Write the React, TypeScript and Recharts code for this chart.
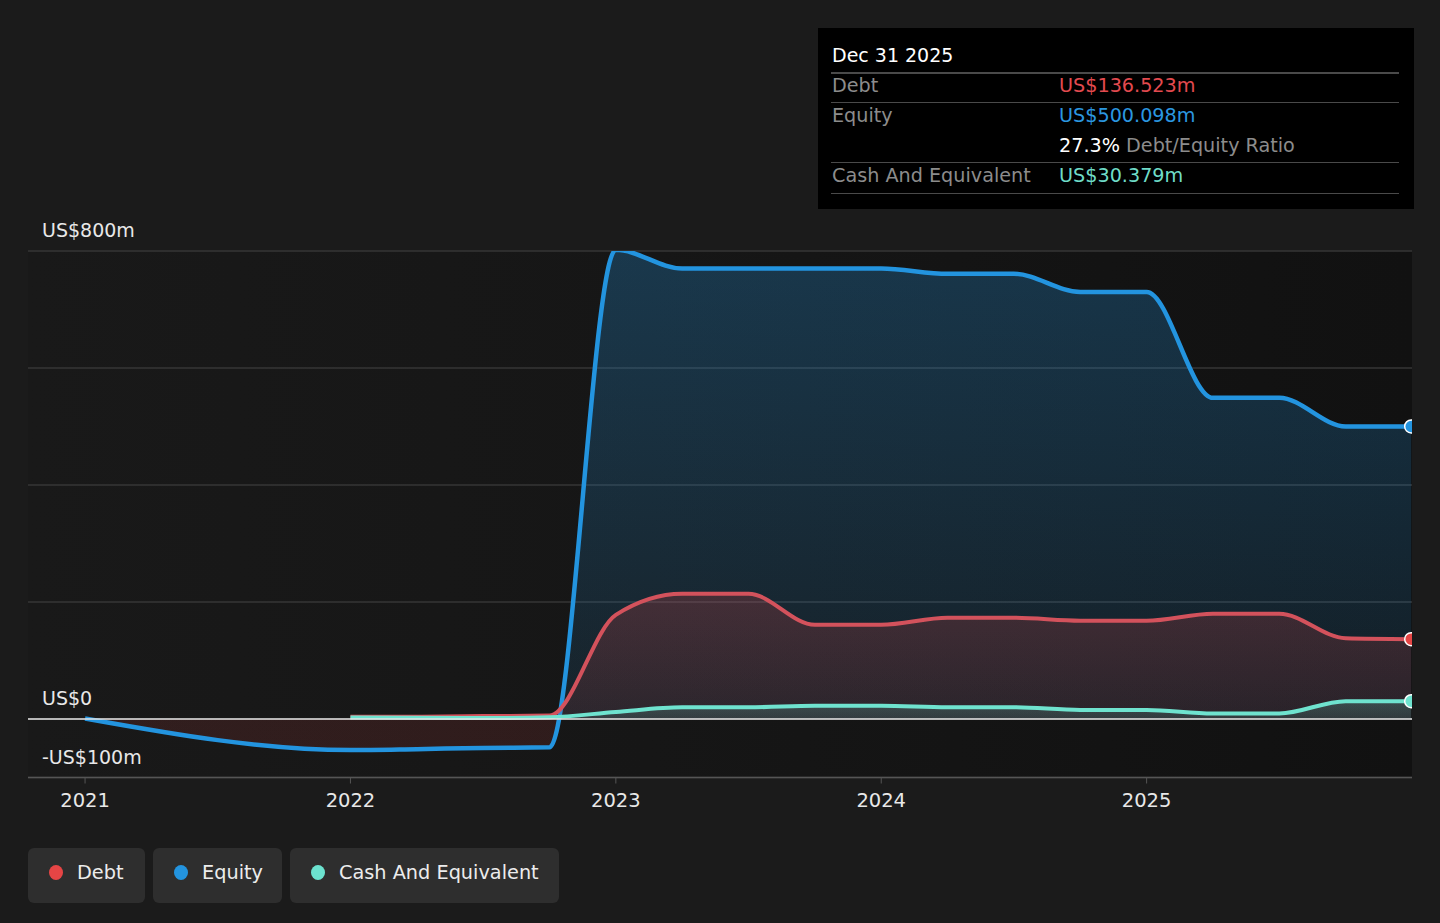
import React from 'react';
import { ComposedChart, Area, XAxis, YAxis, CartesianGrid, ReferenceLine } from 'recharts';

// ---- data ----
const times = [2021.0, 2022.0, 2022.25, 2022.5, 2022.75, 2023.0, 2023.25, 2023.5, 2023.75, 2024.0, 2024.25, 2024.5, 2024.75, 2025.0, 2025.25, 2025.5, 2025.75, 2025.997];
const equity = [1, -53, -51.5, -49.5, -48.5, 802, 770, 770, 770, 770, 761, 761, 730, 730, 549, 549, 500, 500.098];
const debt = [null, 4, 4, 5, 6, 178, 214, 214, 161, 161, 173, 173, 168, 168, 180, 180, 138, 136.523];
const cash = [null, 2.5, 2, 1.5, 3, 12, 20, 20, 22.5, 22.5, 20, 20, 15.5, 15.5, 9.5, 9.5, 30.5, 30.379];
const xTicks = [2021, 2022, 2023, 2024, 2025];
const yTicks = [-100, 0, 200, 400, 600, 800];
const yLabels: Record<string, string> = { '-100': '-US$100m', '0': 'US$0', '800': 'US$800m' };

const data = times.map((t, i) => ({ t, equity: equity[i], debt: debt[i], cash: cash[i] }));

// ---- layout ----
const W = 1440;
const H = 923;
const PL = 28;
const PR = 28;
const PT = 251;
const PB = 777.5;
const XAXIS_H = 30;
const ZERO_Y = PT + (800 / 900) * (PB - PT);
const FONT = '"DejaVu Sans", Verdana, sans-serif';

const C_DEBT = '#d3525c';
const C_EQ = '#2394df';
const C_CASH = '#6fe3cf';

const lastIdx = data.length - 1;
const endDot = (color: string) => (props: any) => {
  const { cx, cy, index } = props;
  if (index !== lastIdx || cx == null || cy == null) return <g key={`d${index}`} />;
  return <circle key={`d${index}`} cx={cx} cy={cy} r={6.5} fill={color} stroke="#ffffff" strokeWidth={1.5} />;
};

const renderYTick = (props: any) => {
  const { y, payload } = props;
  const label = yLabels[String(payload.value)];
  if (!label) return <g />;
  return (
    <text x={42} y={y - 14} fill="#e8e8e8" fontSize={19} fontFamily={FONT} textAnchor="start">
      {label}
    </text>
  );
};

const Row = ({ y, label, value, color }: { y: number; label: string; value: React.ReactNode; color?: string }) => (
  <>
    <div style={{ position: 'absolute', left: 832, top: y - 13, height: 26, lineHeight: '26px', fontSize: 19.2, color: '#8c8c8c', whiteSpace: 'nowrap' }}>{label}</div>
    <div style={{ position: 'absolute', left: 1059, top: y - 13, height: 26, lineHeight: '26px', fontSize: 19.2, color, whiteSpace: 'nowrap' }}>{value}</div>
  </>
);

const Sep = ({ y }: { y: number }) => (
  <div style={{ position: 'absolute', left: 831, top: y, width: 568, height: 1.5, background: '#4a4a4a' }} />
);

const Pill = ({ left, width, color, text }: { left: number; width: number; color: string; text: string }) => (
  <div style={{ position: 'absolute', left, top: 848, width, height: 55, borderRadius: 6, background: '#2e2e2e' }}>
    <div style={{ position: 'absolute', left: 21, top: 17, width: 14, height: 15, borderRadius: '50%', background: color }} />
    <div style={{ position: 'absolute', left: 49, top: -3, height: 55, lineHeight: '55px', fontSize: 19.3, color: '#ececec', whiteSpace: 'nowrap' }}>{text}</div>
  </div>
);

export default function App() {
  return (
    <div style={{ position: 'absolute', left: 0, top: 0, width: W, height: H, background: '#1b1b1b', fontFamily: FONT, overflow: 'hidden' }}>
      <div
        style={{
          position: 'absolute',
          left: PL,
          top: PT,
          width: W - PL - PR,
          height: PB - PT,
          background: 'linear-gradient(90deg, #191919 0%, #161616 45%, #111111 100%)',
        }}
      />
      <div style={{ position: 'absolute', left: 0, top: 0 }}>
        <ComposedChart width={W} height={H} data={data} margin={{ top: PT, right: PR, left: PL - 1, bottom: H - PB - XAXIS_H }}>
          <defs>
            <linearGradient id="eqFill" gradientUnits="userSpaceOnUse" x1="0" y1={PT} x2="0" y2={PB}>
              <stop offset="0" stopColor={C_EQ} stopOpacity={0.27} />
              <stop offset={(ZERO_Y - PT) / (PB - PT)} stopColor={C_EQ} stopOpacity={0.1} />
              <stop offset={(ZERO_Y - PT) / (PB - PT)} stopColor="#e64545" stopOpacity={0.12} />
              <stop offset="1" stopColor="#e64545" stopOpacity={0.12} />
            </linearGradient>
            <linearGradient id="debtFill" gradientUnits="userSpaceOnUse" x1="0" y1={590} x2="0" y2={ZERO_Y}>
              <stop offset="0" stopColor="#e64545" stopOpacity={0.22} />
              <stop offset="1" stopColor="#e64545" stopOpacity={0.1} />
            </linearGradient>
            <linearGradient id="cashFill" gradientUnits="userSpaceOnUse" x1="0" y1={700} x2="0" y2={ZERO_Y}>
              <stop offset="0" stopColor={C_CASH} stopOpacity={0.22} />
              <stop offset="1" stopColor={C_CASH} stopOpacity={0.12} />
            </linearGradient>
          </defs>
          <CartesianGrid horizontal vertical={false} stroke="#363636" strokeWidth={1.3} />
          <XAxis
            dataKey="t"
            type="number"
            domain={[2020.785, 2026.0]}
            ticks={xTicks}
            interval={0}
            allowDataOverflow
            height={XAXIS_H}
            axisLine={{ stroke: '#555555', strokeWidth: 1.5 }}
            tickLine={{ stroke: '#555555' }}
            tickSize={6}
            tickMargin={10}
            tick={{ fill: '#e8e8e8', fontSize: 19.5, fontFamily: FONT }}
          />
          <YAxis
            type="number"
            domain={[-100, 800]}
            ticks={yTicks}
            interval={0}
            allowDataOverflow
            width={1}
            axisLine={false}
            tickLine={false}
            tick={renderYTick}
          />
          <Area
            type="monotone"
            dataKey="equity"
            baseValue={0}
            stroke={C_EQ}
            strokeWidth={4.5}
            fill="url(#eqFill)"
            fillOpacity={1}
            dot={endDot(C_EQ)}
            activeDot={false}
            isAnimationActive={false}
          />
          <Area
            type="monotone"
            dataKey="debt"
            baseValue={0}
            stroke={C_DEBT}
            strokeWidth={4}
            fill="url(#debtFill)"
            fillOpacity={1}
            dot={endDot('#e64545')}
            activeDot={false}
            isAnimationActive={false}
          />
          <ReferenceLine y={0} stroke="#e6e6e6" strokeWidth={1.5} />
          <Area
            type="monotone"
            dataKey="cash"
            baseValue={0}
            stroke={C_CASH}
            strokeWidth={4}
            fill="url(#cashFill)"
            fillOpacity={1}
            dot={endDot(C_CASH)}
            activeDot={false}
            isAnimationActive={false}
          />
        </ComposedChart>
      </div>

      {/* tooltip panel */}
      <div style={{ position: 'absolute', left: 818, top: 28, width: 596, height: 181, background: '#000000' }} />
      <div style={{ position: 'absolute', left: 832, top: 42, height: 26, lineHeight: '26px', fontSize: 19, color: '#ffffff' }}>Dec 31 2025</div>
      <Sep y={72} />
      <Row y={86} label="Debt" value="US$136.523m" color="#e34a4f" />
      <Sep y={101.5} />
      <Row y={116} label="Equity" value="US$500.098m" color="#2b97e0" />
      <Row
        y={146}
        label=""
        value={
          <span>
            <span style={{ color: '#ffffff' }}>27.3%</span>
            <span style={{ color: '#8c8c8c' }}> Debt/Equity Ratio</span>
          </span>
        }
      />
      <Sep y={161.5} />
      <Row y={176} label="Cash And Equivalent" value="US$30.379m" color="#6fdcc8" />
      <Sep y={192.5} />

      {/* legend */}
      <Pill left={28} width={117} color="#e64545" text="Debt" />
      <Pill left={153} width={129} color={C_EQ} text="Equity" />
      <Pill left={290} width={269} color="#6ce2cf" text="Cash And Equivalent" />
    </div>
  );
}
